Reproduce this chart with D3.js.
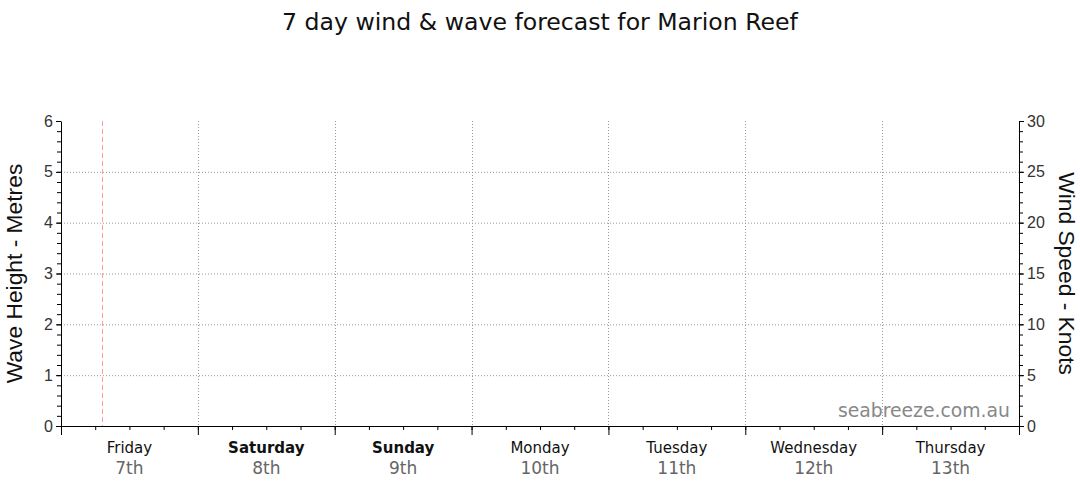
<!DOCTYPE html>
<html>
<head>
<meta charset="utf-8">
<script src="https://cdn.jsdelivr.net/npm/d3@7"></script>
<style>
  body { margin: 0; background: #fff; }
  text { font-family: "Liberation Sans", Arial, sans-serif; }
  .grid line { stroke: #999; stroke-dasharray: 1,2; }
</style>
</head>
<body>
<div id="chart"></div>
<script>
// chart data
var dayNames = ["Friday", "Saturday", "Sunday", "Monday", "Tuesday", "Wednesday", "Thursday"];
var dayDates = ["7th", "8th", "9th", "10th", "11th", "12th", "13th"];
var weekend = [false, true, true, false, false, false, false];
var waveTicks = [0, 1, 2, 3, 4, 5, 6];
var windTicks = [0, 5, 10, 15, 20, 25, 30];
var waveHeight = [];   // no forecast values in picture
var windSpeed = [];
var nowDay = 0.3;      // "now" marker, in days from Friday 00:00

var svgWidth = 1080;
var svgHeight = 490;

var margin = { top: 121, right: 61, bottom: 64, left: 61 };
var width = svgWidth - margin.left - margin.right;
var height = svgHeight - margin.top - margin.bottom;

var svg = d3.select("#chart")
  .append("svg")
  .attr("width", svgWidth)
  .attr("height", svgHeight);

var chartGroup = svg.append("g")
  .attr("transform", `translate(${margin.left}, ${margin.top})`);

var xScale = d3.scaleLinear().domain([0, dayNames.length]).range([0, width]);
var yWave = d3.scaleLinear().domain([0, 6]).range([height, 0]);
var yWind = d3.scaleLinear().domain([0, 30]).range([height, 0]);

// grid lines
chartGroup.append("g").attr("class", "grid")
  .selectAll("line").data(waveTicks.slice(1, -1)).enter()
  .append("line")
  .attr("x1", 0).attr("x2", width)
  .attr("y1", d => yWave(d) + 0.5).attr("y2", d => yWave(d) + 0.5);

chartGroup.append("g").attr("class", "grid")
  .selectAll("line").data(d3.range(1, dayNames.length)).enter()
  .append("line")
  .attr("y1", 0).attr("y2", height)
  .attr("x1", d => Math.round(xScale(d)) + 0.5).attr("x2", d => Math.round(xScale(d)) + 0.5);

// now marker
chartGroup.append("line")
  .attr("x1", Math.round(xScale(nowDay)) + 0.5).attr("x2", Math.round(xScale(nowDay)) + 0.5)
  .attr("y1", 0).attr("y2", height)
  .attr("stroke", "#ff9d9d")
  .attr("stroke-dasharray", "5,3");

// watermark
chartGroup.append("text")
  .attr("x", width - 9)
  .attr("y", height - 9)
  .attr("text-anchor", "end")
  .attr("fill", "#888")
  .style("font-family", "'DejaVu Sans', Verdana, sans-serif")
  .style("font-size", "18.8px")
  .text("seabreeze.com.au");

// axes
function styleAxis(g) {
  g.select(".domain").attr("stroke", "#000");
  g.selectAll(".tick line").attr("stroke", "#000");
  g.selectAll(".tick text").attr("fill", "#333").style("font-size", "16px");
}

var leftMinor = chartGroup.append("g")
  .call(d3.axisLeft(yWave).tickValues(d3.range(0, 6.01, 0.2)).tickSize(4).tickFormat(""));
leftMinor.select(".domain").remove();
leftMinor.selectAll("line").attr("stroke", "#000");

chartGroup.append("g")
  .call(d3.axisLeft(yWave).tickValues(waveTicks).tickFormat(d3.format("d"))
    .tickSize(5).tickPadding(3).tickSizeOuter(0))
  .call(styleAxis);

var rightMinor = chartGroup.append("g")
  .attr("transform", `translate(${width}, 0)`)
  .call(d3.axisRight(yWind).tickValues(d3.range(0, 31, 1)).tickSize(4).tickFormat(""));
rightMinor.select(".domain").remove();
rightMinor.selectAll("line").attr("stroke", "#000");

chartGroup.append("g")
  .attr("transform", `translate(${width}, 0)`)
  .call(d3.axisRight(yWind).tickValues(windTicks).tickFormat(d3.format("d"))
    .tickSize(5).tickPadding(3).tickSizeOuter(0))
  .call(styleAxis);

var xMinor = chartGroup.append("g")
  .attr("transform", `translate(0, ${height})`)
  .call(d3.axisBottom(xScale).tickValues(d3.range(0, 7.01, 0.25)).tickSize(4).tickFormat(""));
xMinor.select(".domain").remove();
xMinor.selectAll("line").attr("stroke", "#000");

chartGroup.append("g")
  .attr("transform", `translate(0, ${height})`)
  .call(d3.axisBottom(xScale).tickValues(d3.range(0, 8)).tickSize(9).tickFormat("").tickSizeOuter(0))
  .call(styleAxis);

// day labels
var dayLabels = chartGroup.append("g")
  .attr("transform", `translate(0, ${height})`)
  .selectAll("g").data(dayNames).enter()
  .append("g")
  .attr("transform", (d, i) => `translate(${xScale(i + 0.5)}, 0)`);

dayLabels.append("text")
  .attr("y", 27)
  .attr("text-anchor", "middle")
  .attr("fill", "#111")
  .style("font-family", "'DejaVu Sans', Verdana, sans-serif")
  .style("font-size", "15px")
  .style("font-weight", (d, i) => weekend[i] ? "bold" : "normal")
  .text(d => d);

dayLabels.append("text")
  .attr("y", 48)
  .attr("text-anchor", "middle")
  .attr("fill", "#666")
  .style("font-family", "'DejaVu Sans', Verdana, sans-serif")
  .style("font-size", "17px")
  .text((d, i) => dayDates[i]);

// axis titles
svg.append("text")
  .attr("transform", `translate(22, ${margin.top + height / 2}) rotate(-90)`)
  .attr("text-anchor", "middle")
  .attr("fill", "#111")
  .style("font-size", "22.8px")
  .text("Wave Height - Metres");

svg.append("text")
  .attr("transform", `translate(1059, ${margin.top + height / 2}) rotate(90)`)
  .attr("text-anchor", "middle")
  .attr("fill", "#111")
  .style("font-size", "22.8px")
  .text("Wind Speed - Knots");

// title
svg.append("text")
  .attr("x", svgWidth / 2)
  .attr("y", 30)
  .attr("text-anchor", "middle")
  .attr("fill", "#111")
  .style("font-family", "'DejaVu Sans', Verdana, sans-serif")
  .style("font-size", "23.6px")
  .text("7 day wind & wave forecast for Marion Reef");
</script>
</body>
</html>
